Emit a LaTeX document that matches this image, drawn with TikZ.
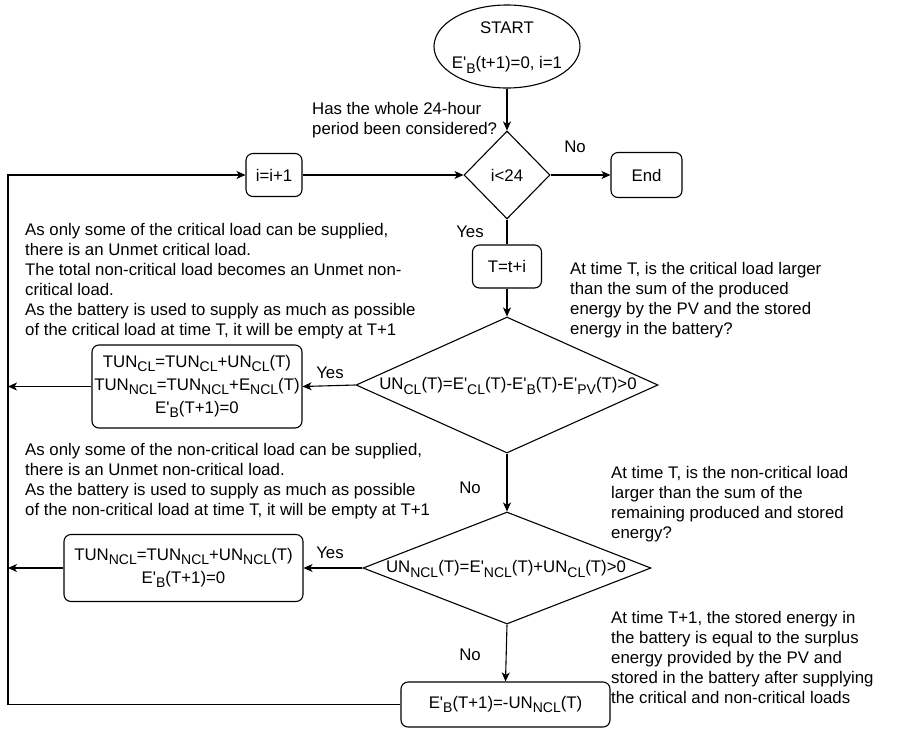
\documentclass[tikz,border=0pt]{standalone}
\usepackage{fontspec}
\setmainfont{Liberation Sans}
\usetikzlibrary{shapes.geometric,arrows.meta}
\newcommand\Ep{E\textquotesingle}
\newcommand\sbs[1]{\raisebox{-4.5pt}{\fontsize{14}{14}\selectfont #1}}
\tikzset{
  every node/.style={font=\fontsize{16.8}{20}\selectfont, text=black},
  box/.style={draw, rounded corners=7pt, line width=1.1pt, inner sep=0pt, align=center},
  arr/.style={-{Stealth[length=9pt,width=8pt,inset=2.5pt]}, line width=1.1pt},
  ln/.style={line width=1.1pt},
  dia/.style={draw, diamond, inner sep=0pt, line width=1.1pt},
  lbl/.style={inner sep=0pt, align=center},
  note/.style={inner sep=0pt, align=left, anchor=north west}
}
\begin{document}
\begin{tikzpicture}[x=1pt,y=-1pt]
\useasboundingbox (0,0) rectangle (897,729);
% start ellipse
\node[draw, ellipse, line width=1.1pt, minimum width=146pt, minimum height=83pt, inner sep=0pt] (start) at (507,46.5) {};
\node[lbl] (starttxt) at (507,28) {START};
\node[lbl] (startinit) at (507,65) {\Ep\sbs{B}(t+1)=0, i=1};
% decision 1
\node[dia, minimum width=86pt, minimum height=88pt] (d1) at (507,175) {};
\node[lbl] (d1txt) at (507,175) {i<24};
\node[box, minimum width=71pt, minimum height=45pt] (endb) at (646.5,175) {End};
\node[box, minimum width=56pt, minimum height=43pt] (inc) at (274,175) {i=i+1};
\node[box, minimum width=69pt, minimum height=43pt] (tbox) at (507,266.5) {T=t+i};
% decision 2
\node[dia, minimum width=302pt, minimum height=136pt] (d2) at (507,385) {};
\node[lbl] (d2txt) at (508,386) {UN\sbs{CL}(T)=\Ep\sbs{CL}(T)-\Ep\sbs{B}(T)-\Ep\sbs{PV}(T)>0};
\node[box, minimum width=210pt, minimum height=83pt, font=\fontsize{16.8}{23}\selectfont] (b1) at (197,386.5)
  {TUN\sbs{CL}=TUN\sbs{CL}+UN\sbs{CL}(T)\\TUN\sbs{NCL}=TUN\sbs{NCL}+E\sbs{NCL}(T)\\\Ep\sbs{B}(T+1)=0};
% decision 3
\node[dia, minimum width=288pt, minimum height=112pt] (d3) at (507,568) {};
\node[lbl] (d3txt) at (506,569) {UN\sbs{NCL}(T)=\Ep\sbs{NCL}(T)+UN\sbs{CL}(T)>0};
\node[box, minimum width=239pt, minimum height=67pt, font=\fontsize{16.8}{23}\selectfont] (b2) at (183.5,568)
  {TUN\sbs{NCL}=TUN\sbs{NCL}+UN\sbs{NCL}(T)\\\Ep\sbs{B}(T+1)=0};
\node[box, minimum width=209pt, minimum height=45pt] (b3) at (505.5,704.5) {\Ep\sbs{B}(T+1)=-UN\sbs{NCL}(T)};
% left return line
\coordinate (L) at (8,175);
% connectors
\draw[arr] (start.south) -- (d1.north);
\draw[arr] (d1.east) -- (endb.west);
\draw[arr] (inc.east) -- (d1.west);
\draw[ln] (d1.south) -- (tbox.north);
\draw[arr] (tbox.south) -- (d2.north);
\draw[arr] (d2.west) -- (b1.east);
\draw[arr] (b1.west) -- (b1.west -| L);
\draw[arr] (d2.south) -- (d3.north);
\draw[arr] (d3.west) -- (b2.east);
\draw[arr] (b2.west) -- (b2.west -| L);
\draw[arr] (d3.south) -- (b3.north);
\draw[arr] (b3.west) -| (L) -- (inc.west);
% branch labels
\node[lbl] (no1) at (575,147) {No};
\node[lbl] (yes1) at (470,232) {Yes};
\node[lbl] (yes2) at (330,373) {Yes};
\node[lbl] (no2) at (470,488) {No};
\node[lbl] (yes3) at (330,553) {Yes};
\node[lbl] (no3) at (470,655) {No};
% notes
\node[note] (nq) at (312,102) {Has the whole 24-hour\\period been considered?};
\node[note] (nb) at (25,223) {As only some of the critical load can be supplied,\\there is an Unmet critical load.\\The total non-critical load becomes an Unmet non-\\critical load.\\As the battery is used to supply as much as possible\\of the critical load at time T, it will be empty at T+1};
\node[note] (nc) at (570,262) {At time T, is the critical load larger\\than the sum of the produced\\energy by the PV and the stored\\energy in the battery?};
\node[note] (nd) at (25,443) {As only some of the non-critical load can be supplied,\\there is an Unmet non-critical load.\\As the battery is used to supply as much as possible\\of the non-critical load at time T, it will be empty at T+1};
\node[note] (ne) at (611,466) {At time T, is the non-critical load\\larger than the sum of the\\remaining produced and stored\\energy?};
\node[note] (nf) at (611,611) {At time T+1, the stored energy in\\the battery is equal to the surplus\\energy provided by the PV and\\stored in the battery after supplying\\the critical and non-critical loads};
\end{tikzpicture}
\end{document}
